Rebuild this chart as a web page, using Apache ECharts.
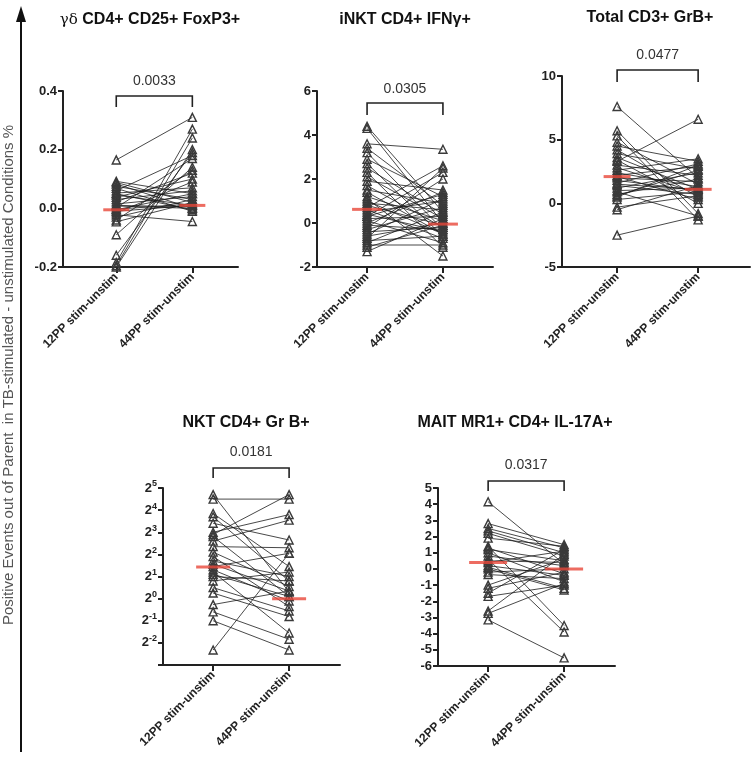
<!DOCTYPE html>
<html>
<head>
<meta charset="utf-8">
<script src="https://cdn.jsdelivr.net/npm/echarts@6/dist/echarts.min.js"></script>
<style>
html, body { margin: 0; padding: 0; background: #fff; }
#main { width: 753px; height: 763px; }
</style>
</head>
<body>
<div id="main"></div>
<script>
// categories (x) shared by every panel
const categories = ['12PP stim-unstim', '44PP stim-unstim'];
const pValues = ['0.0033', '0.0305', '0.0477', '0.0181', '0.0317'];

// γδ CD4+ CD25+ FoxP3+  (paired by index)
const gd12 = [0.165, 0.092, 0.088, 0.083, 0.075, 0.068, 0.060, 0.052, 0.045, 0.038, 0.030, 0.022, 0.015, 0.008, 0.002, -0.005, -0.010, -0.015, -0.022, -0.030, -0.040, -0.046, -0.090, -0.160, -0.185, -0.195, -0.200, 0.010, 0.050, -0.003];
const gd44 = [0.310, 0.050, 0.020, 0.000, 0.030, -0.010, 0.180, 0.070, 0.010, 0.100, 0.060, 0.120, 0.040, 0.000, 0.170, 0.050, 0.010, 0.090, -0.045, 0.030, 0.130, 0.020, 0.140, 0.190, 0.270, 0.240, 0.200, 0.005, -0.005, 0.015];

// iNKT CD4+ IFNγ+
const inkt12 = [4.4, 4.3, 3.6, 3.4, 3.2, 2.9, 2.7, 2.5, 2.3, 2.1, 1.9, 1.7, 1.5, 1.4, 1.2, 1.1, 0.9, 0.8, 0.7, 0.6, 0.5, 0.4, 0.3, 0.2, 0.1, 0.0, -0.1, -0.2, -0.3, -0.4, -0.5, -0.6, -0.7, -0.8, -0.9, -1.0, -1.1, -1.3, 1.0, 0.3];
const inkt44 = [0.5, 0.0, 3.35, 0.8, -0.3, 1.2, -0.6, 0.4, -1.1, 0.2, 1.5, -0.2, 0.9, -0.5, 0.1, -1.5, 0.6, -0.1, 2.6, -0.7, 1.0, -0.4, 2.3, 0.3, -0.9, 1.4, -0.3, 2.0, 0.7, -0.2, 1.1, 0.0, 2.5, -0.6, 0.5, -1.0, -0.1, 0.2, -0.5, 1.3];

// Total CD3+ GrB+
const cd3_12 = [7.6, 5.7, 5.3, 4.8, 4.5, 4.2, 3.9, 3.6, 3.3, 3.0, 2.8, 2.6, 2.4, 2.2, 2.1, 2.0, 1.8, 1.6, 1.4, 1.2, 1.0, 0.9, 0.7, 0.5, 0.3, -0.3, -0.5, -2.5, 3.4, 1.5, 0.6];
const cd3_44 = [2.0, -0.8, -1.3, 1.5, 3.3, 0.5, 2.7, 1.1, 6.6, 2.2, 0.8, 3.5, 1.3, 2.9, 0.3, 1.7, 1.0, 3.1, 0.7, 2.4, 1.2, -1.0, 1.9, 3.0, 0.9, 0.6, 1.4, -1.0, 0.0, 1.1, 2.6];

// NKT CD4+ Gr B+ (log2 axis)
const nkt12 = [26.0, 22.6, 14.4, 13.0, 10.6, 8.0, 7.0, 6.06, 5.1, 4.29, 3.73, 3.25, 2.93, 2.73, 2.46, 2.30, 2.0, 1.74, 1.41, 1.19, 0.83, 0.66, 0.5, 0.20, 7.46, 2.14];
const nkt44 = [1.23, 22.6, 2.73, 1.74, 6.28, 13.9, 1.07, 11.7, 4.92, 1.46, 0.78, 2.0, 1.27, 4.14, 0.93, 0.34, 1.74, 2.30, 0.68, 0.57, 1.27, 0.28, 0.20, 4.14, 26.0, 1.07];

// MAIT MR1+ CD4+ IL-17A+
const mait12 = [4.15, 2.8, 2.5, 2.35, 2.2, 1.9, 1.4, 1.2, 1.0, 0.8, 0.6, 0.4, 0.2, 0.0, -0.2, -0.35, -1.0, -1.2, -1.5, -1.7, -2.6, -2.75, -3.15, 1.3, 0.5, 0.1];
const mait44 = [0.3, 1.5, 1.3, 1.0, 0.8, 1.4, -3.5, 0.5, -0.8, 0.2, -3.9, 1.1, -0.4, -1.3, 0.0, -0.6, 0.6, -0.2, 1.2, -1.0, 0.9, -0.9, -5.5, -0.3, 0.4, -1.2];

// medians (red bars)
const medians = [[-0.005, 0.01], [0.62, -0.05], [2.1, 1.1], [2.7, 1.0], [0.4, 0.0]];

// y axis ranges
const yMin = [-0.2, -2, -5, 0.125, -6];
const yMax = [0.4, 6, 10, 32, 5];
const yStep = [0.2, 2, 5, null, 1];

const pairs = [[gd12, gd44], [inkt12, inkt44], [cd3_12, cd3_44], [nkt12, nkt44], [mait12, mait44]];

// layout of each panel (pixels)
const layout = [
  {left: 63, top: 91, width: 175, height: 176, xMin: -0.70, xMax: 1.60, barW: 26, brOff: 5, leg: 11, gap: 8, tx: 150, ty: 20},
  {left: 317, top: 91, width: 176, height: 176, xMin: -0.66, xMax: 1.66, barW: 30, brOff: 12, leg: 12, gap: 7, tx: 405, ty: 20},
  {left: 562, top: 76, width: 188, height: 191, xMin: -0.68, xMax: 1.64, barW: 27, brOff: -6, leg: 12, gap: 8, tx: 650, ty: 18},
  {left: 163, top: 488, width: 177, height: 177, xMin: -0.66, xMax: 1.67, barW: 34, brOff: -20, leg: 10, gap: 9, tx: 246, ty: 423},
  {left: 438, top: 488, width: 177, height: 178, xMin: -0.66, xMax: 1.67, barW: 38, brOff: -7, leg: 10, gap: 9, tx: 515, ty: 423}
];

const FONT = '"Liberation Sans", Arial, sans-serif';
const ink = '#222';

let myChart = echarts.init(document.getElementById('main'), null, {renderer: 'canvas'});

let grids = [], xAxes = [], yAxes = [], series = [];

layout.forEach(function (l, i) {
  grids.push({left: l.left, top: l.top, width: l.width, height: l.height});
  xAxes.push({
    type: 'value', gridIndex: i, min: l.xMin, max: l.xMax,
    splitLine: {show: false},
    axisLine: {onZero: false, lineStyle: {color: ink, width: 2}},
    axisTick: {show: true, customValues: [0, 1], length: 6, lineStyle: {color: ink, width: 2}},
    axisLabel: {
      customValues: [0, 1], rotate: 45, margin: 8,
      formatter: function (v) { return categories[Math.round(v)]; },
      color: ink, fontWeight: 'bold', fontSize: 12, fontFamily: FONT
    }
  });
  let y = {
    gridIndex: i, min: yMin[i], max: yMax[i],
    splitLine: {show: false},
    axisLine: {show: true, onZero: false, lineStyle: {color: ink, width: 2}},
    axisTick: {show: true, length: 5, lineStyle: {color: ink, width: 2}},
    axisLabel: {color: ink, fontWeight: 'bold', fontSize: 13, fontFamily: FONT, margin: 6}
  };
  if (i === 3) {
    y.type = 'log';
    y.logBase = 2;
    y.splitNumber = 8;
    y.axisLabel.formatter = function (v) {
      let e = Math.round(Math.log2(v));
      return e === -3 ? '' : '2{s|' + e + '}';
    };
    y.axisLabel.rich = {s: {fontSize: 9, fontWeight: 'bold', color: ink, fontFamily: FONT, padding: [0, 0, 8, 0]}};
  } else {
    y.type = 'value';
    y.interval = yStep[i];
    if (i === 0) y.axisLabel.formatter = function (v) { return v.toFixed(1); };
  }
  yAxes.push(y);

  // paired lines
  let a = pairs[i][0], b = pairs[i][1];
  for (let k = 0; k < a.length; k++) {
    series.push({
      type: 'line', xAxisIndex: i, yAxisIndex: i,
      data: [[0, a[k]], [1, b[k]]],
      symbol: 'triangle', symbolSize: 8,
      lineStyle: {color: '#1a1a1a', width: 0.8},
      itemStyle: {color: 'rgba(255,255,255,0)', borderColor: '#3a3a3a', borderWidth: 1.4},
      silent: true, animation: false
    });
  }
  // medians
  series.push({
    type: 'scatter', xAxisIndex: i, yAxisIndex: i,
    data: [[0, medians[i][0]], [1, medians[i][1]]],
    symbol: 'rect', symbolSize: [l.barW, 3],
    itemStyle: {color: '#e8473a'}, z: 10, silent: true, animation: false
  });
  // p-value bracket
  series.push({
    type: 'custom', xAxisIndex: i, yAxisIndex: i, clip: false, silent: true, animation: false, z: 11,
    data: [[0, yMax[i]]],
    renderItem: function (params, api) {
      let p0 = api.coord([0, yMax[i]]);
      let p1 = api.coord([1, yMax[i]]);
      let yy = p0[1] + l.brOff;
      return {
        type: 'group',
        children: [
          {type: 'polyline', shape: {points: [[p0[0], yy + l.leg], [p0[0], yy], [p1[0], yy], [p1[0], yy + l.leg]]},
            style: {stroke: ink, lineWidth: 1.6, fill: null}},
          {type: 'text', style: {text: pValues[i], x: (p0[0] + p1[0]) / 2, y: yy - l.gap, align: 'center', verticalAlign: 'bottom',
            font: '14px ' + FONT, fill: '#333'}}
        ]
      };
    }
  });
});

const titleTexts = [
  '{g|γδ} CD4+ CD25+ FoxP3+',
  'iNKT CD4+ IFNγ+',
  'Total CD3+ GrB+',
  'NKT CD4+ Gr B+',
  'MAIT MR1+ CD4+ IL-17A+'
];

let graphics = titleTexts.map(function (t, i) {
  return {
    type: 'text', x: layout[i].tx, y: layout[i].ty,
    style: {
      text: t, align: 'center', verticalAlign: 'middle',
      font: 'bold 16px ' + FONT, fill: '#111',
      rich: {g: {font: '15px "DejaVu Serif", serif', fill: '#111'}}
    }
  };
});

// big y arrow on the left and its label
graphics.push({type: 'line', shape: {x1: 21, y1: 752, x2: 21, y2: 18}, style: {stroke: '#111', lineWidth: 2}});
graphics.push({type: 'polygon', shape: {points: [[21, 6], [16, 22], [26, 22]]}, style: {fill: '#111'}});
graphics.push({
  type: 'text', x: 9, y: 375, rotation: Math.PI / 2,
  style: {
    text: 'Positive Events out of Parent  in TB-stimulated - unstimulated Conditions %',
    align: 'center', verticalAlign: 'middle', font: '15px ' + FONT, fill: '#555'
  }
});

myChart.setOption({
  animation: false,
  grid: grids,
  xAxis: xAxes,
  yAxis: yAxes,
  series: series,
  graphic: graphics
});
</script>
</body>
</html>
